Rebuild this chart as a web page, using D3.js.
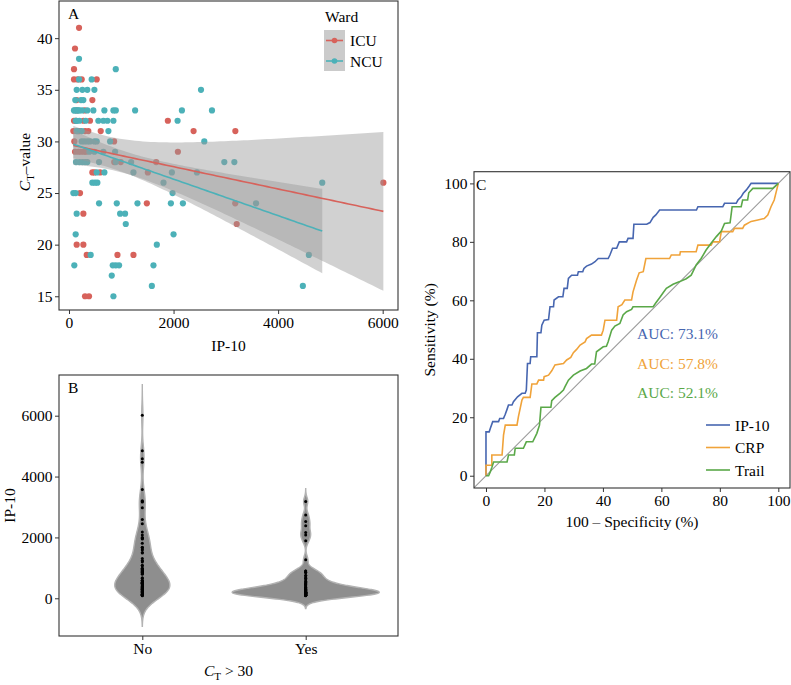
<!DOCTYPE html>
<html><head><meta charset="utf-8">
<script src="https://cdn.jsdelivr.net/npm/d3@7"></script>
<style>body{margin:0;background:#fff} svg text{font-family:"Liberation Serif","Times New Roman",serif}</style>
</head><body><svg id="c" width="791" height="685" font-family="Liberation Serif, serif"></svg>
<script>
// ---------------- DATA ----------------
// Panel A: [IP-10, CT value]  (includes estimated overplotted points in the dense low-IP-10 cluster)
const icuPoints = [[192,41],[115,39],[96,37],[96,36],[166,36],[243,36],[530,36],[147,34],[447,34],[300,33],[150,33],
 [96,32],[130,32],[275,32],[402,32],[1891,32],[83,31],[180,31],[198,31],[307,31],[370,31],[607,31],[2383,31],[3182,31],
 [102,30],[863,30],[115,29],[179,29],[230,29],[288,29],[326,29],[2083,29],[865,28],[990,28],[1668,28],
 [447,27],[486,27],[594,27],[1508,27],[6013,26],[211,25],[1489,24],[3180,24],[275,23],[3208,22],
 [147,20],[275,20],[339,19],[927,19],[1233,19],[307,15],[383,15]];
const ncuPoints = [[192,38],[895,37],[192,36],[434,36],[147,35],[256,35],[351,35],[486,35],[2525,35],
 [120,34],[230,34],[275,34],[96,33],[110,33],[147,33],[175,33],[198,33],[250,33],[350,33],[466,33],[677,33],[850,33],[895,33],[1265,33],[2160,33],[2735,33],
 [130,32],[147,32],[198,32],[320,32],[562,32],[658,32],[735,32],[850,32],[2077,32],[147,31],[160,31],[243,31],[754,31],
 [243,30],[294,30],[351,30],[402,30],[486,30],[530,30],[786,30],[2588,30],[390,29],[486,29],[658,29],[882,29],
 [134,28],[198,28],[256,28],[307,28],[351,28],[575,28],[895,28],[1189,28],[2971,28],[3163,28],
 [530,27],[677,27],[1233,27],[1968,27],[2447,27],[447,26],[498,26],[543,26],[1808,26],[4844,26],
 [83,25],[128,25],[1981,25],[575,24],[914,24],[1310,24],[1949,24],[2179,24],[3578,24],[147,23],[978,23],[1073,23],
 [1086,22],[128,21],[2000,21],[1680,20],[415,19],[4588,19],[102,18],[837,18],[895,18],[958,18],[1616,18],
 [818,17],[1585,16],[4473,16],[850,15]];
const wards = ["ICU","NCU"];
const wardColors = ["#d7625b","#4cb1b8"];
const xTicksA = [0,2000,4000,6000];
const yTicksA = [15,20,25,30,35,40];

// Panel B
const groupsB = ["No","Yes"];
const yTicksB = [0,2000,4000,6000];

// Panel C: [100 - specificity, sensitivity]
const rocIP10 = [[0,0],[0,15],[1.1,15],[1.5,16.2],[2.3,18.5],[4.3,18.5],[4.7,19.6],[6,19.6],[6.6,21],[7.2,22.7],[7.7,24.2],[8.9,24.2],[9.4,25.3],[10.8,27],[12.3,28.2],[13.4,28.2],[13.8,29.3],[14.2,38.4],[15.1,38.4],[15.3,40.7],[17.4,40.7],[17.6,48.9],[18.8,48.9],[19.1,51.5],[19.9,53.2],[21.4,53.4],[21.9,57.8],[23.1,57.8],[23.3,60.1],[24.8,61.2],[26.3,61.2],[26.7,64.1],[27.8,64.1],[28.2,67.5],[29.3,68.6],[31.3,68.6],[31.6,69.8],[33.1,69.8],[33.5,70.9],[34.4,71.7],[36.1,72.4],[37.3,73.2],[38.4,74.3],[41.8,74.3],[42.4,75.5],[43.3,77.8],[44.7,77.8],[45.6,80],[48.1,80],[48.6,81.2],[50.3,81.2],[50.6,86],[55,86],[56.1,86.6],[57.2,88.4],[58.1,89.2],[59.4,90.9],[72,90.9],[72.5,92],[81,92],[81.6,93.2],[85.6,93.2],[86.2,94.3],[87.3,95.4],[88,96.6],[89,97.7],[90,99],[90.7,100],[100,100]];
const rocCRP = [[0,0],[0,3.6],[2,3.6],[2,7.1],[5.5,7.1],[6,13.9],[6.6,17.3],[10.6,17.3],[11.1,20.2],[12.3,25.9],[12.8,26.8],[15.1,26.8],[15.7,31.4],[17.4,31.4],[18,32.7],[19.7,32.7],[19.9,33.9],[21.4,34.4],[22.5,35.9],[23.6,37.9],[26.5,38.4],[27.6,39.6],[29,40.5],[29.9,42.1],[31,43.2],[32.2,44.7],[33.9,45.8],[34.4,46.9],[36.1,48.1],[39.5,48.1],[40.1,49.8],[40.7,53.2],[44.7,53.2],[45.2,57.8],[46.5,58.5],[47.5,60.1],[49.8,60.1],[50.3,62.9],[51.5,66.9],[52.4,69.4],[53.8,69.8],[54.7,74.3],[62.8,74.3],[63.4,75.5],[66.3,75.5],[66.5,76.6],[71.9,76.6],[72.5,78.9],[77,78.9],[77.6,80],[79.9,80],[80.5,83.5],[84.4,83.5],[85,84.6],[87.8,84.6],[88.4,85.7],[90.7,87],[93,87.5],[95.2,88],[96.4,89.2],[97.5,92],[98.6,94.3],[100,100]];
const rocTrail = [[0,0],[0.9,0],[1.5,1.4],[2,2.8],[2.6,4.7],[7.2,4.7],[7.7,7.1],[9.7,7.1],[10,9.4],[12.8,9.4],[13.8,11.6],[16,11.6],[17.4,14.5],[18.3,17.3],[18.8,23.4],[22.2,23.4],[22.5,25.7],[23.6,26.8],[25.3,28.2],[26.5,29.3],[27,30.4],[28.2,32.7],[29.9,34.4],[32.2,35.8],[34.4,36.7],[36.1,38.2],[37.2,38.2],[37.8,42.4],[40.1,44.1],[41.2,44.3],[41.8,45.8],[43,49.8],[44.1,51.2],[45.8,52.1],[46.9,55],[48.1,56.1],[49.8,56.9],[50.3,57.8],[57.2,57.8],[58,59],[59.4,60.9],[60.6,62.6],[61.7,64.1],[64,65.5],[66.3,66.4],[68.5,67.4],[70.2,68.6],[70.8,69.8],[71.9,72.1],[73.6,74.3],[75.3,77.2],[77,79.5],[78.8,81.8],[80.5,83.7],[81.6,86.3],[83.5,86.5],[84.2,92],[87.3,92],[87.8,94.3],[89.5,94.3],[89.9,96.8],[91.3,98.3],[98.1,98.3],[100,100]];
const rocNames = ["IP-10","CRP","Trail"];
const rocColors = ["#4766b0","#f0a33a","#5aa848"];
const aucLabels = ["AUC: 73.1%","AUC: 57.8%","AUC: 52.1%"];
const ticksC = [0,20,40,60,80,100];

// ---------------- DRAW ----------------
const SERIF = "Liberation Serif, Times New Roman, serif";
const svg = d3.select("#c");
const FS = 15.5;
const defs = svg.append("defs");
function clip(id, p){ defs.append("clipPath").attr("id",id).append("rect").attr("x",p.l).attr("y",p.t).attr("width",p.r-p.l).attr("height",p.b-p.t); }
function styleAxis(g){ g.attr("font-family",SERIF).attr("font-size",FS); g.select(".domain").remove();
  g.selectAll("text").attr("font-size",FS).attr("fill","#000").attr("font-family",SERIF); g.selectAll("line").attr("stroke","#333"); }
function frame(p){ svg.append("rect").attr("x",p.l).attr("y",p.t).attr("width",p.r-p.l).attr("height",p.b-p.t).attr("fill","none").attr("stroke","#333").attr("stroke-width",1.1); }
function ctText(sel, after){ sel.append("tspan").attr("font-style","italic").text("C");
  sel.append("tspan").attr("font-size",11).attr("dy",4).text("T");
  sel.append("tspan").attr("dy",-4).text(after); }
const fmt = d3.format("d");

// ===== Panel A =====
const A={l:59,r:398,t:1,b:310};
clip("clA",A);
const xA=d3.scaleLinear().domain([-191,6293]).range([A.l,A.r]);
const yA=d3.scaleLinear().domain([13.67,43.6]).range([A.b,A.t]);
const gA=svg.append("g").attr("clip-path","url(#clA)");
const groupsA=[icuPoints,ncuPoints];
groupsA.forEach((pts,i)=>{
  gA.selectAll(null).data(pts).enter().append("circle")
    .attr("cx",d=>xA(d[0])).attr("cy",d=>yA(d[1])).attr("r",3.1).attr("fill",wardColors[i]);
});
function tq(df){ const z=1.959964; return z+(z**3+z)/(4*df)+(5*z**5+16*z**3+3*z)/(96*df*df); }
function lmFit(pts){
  const n=pts.length, xb=d3.mean(pts,d=>d[0]), yb=d3.mean(pts,d=>d[1]);
  const sxx=d3.sum(pts,d=>(d[0]-xb)**2), sxy=d3.sum(pts,d=>(d[0]-xb)*(d[1]-yb));
  const b=sxy/sxx, a=yb-b*xb;
  const s=Math.sqrt(d3.sum(pts,d=>(d[1]-a-b*d[0])**2)/(n-2));
  const t=tq(n-2);
  const [x0,x1]=d3.extent(pts,d=>d[0]);
  return d3.range(81).map(k=>{ const x=x0+(x1-x0)*k/80; const f=a+b*x;
    const se=s*Math.sqrt(1/n+(x-xb)**2/sxx); return {x,f,lo:f-t*se,hi:f+t*se}; });
}
const fits=groupsA.map(lmFit);
fits.forEach(f=>{
  gA.append("path").datum(f).attr("fill","#999").attr("fill-opacity",0.45)
    .attr("d",d3.area().x(d=>xA(d.x)).y0(d=>yA(d.lo)).y1(d=>yA(d.hi)));
});
fits.forEach((f,i)=>{
  gA.append("path").datum(f).attr("fill","none").attr("stroke",wardColors[i]).attr("stroke-width",1.6)
    .attr("d",d3.line().x(d=>xA(d.x)).y(d=>yA(d.f)));
});
frame(A);
svg.append("g").attr("transform",`translate(0,${A.b})`).call(d3.axisBottom(xA).tickValues(xTicksA).tickFormat(fmt).tickSize(4).tickPadding(2.5)).call(styleAxis);
svg.append("g").attr("transform",`translate(${A.l},0)`).call(d3.axisLeft(yA).tickValues(yTicksA).tickFormat(fmt).tickSize(4).tickPadding(2.5)).call(styleAxis);
svg.append("text").attr("x",(A.l+A.r)/2).attr("y",351).attr("text-anchor","middle").attr("font-size",FS).text("IP-10");
ctText(svg.append("text").attr("transform","translate(30,162) rotate(-90)").attr("text-anchor","middle").attr("font-size",FS),"\u2013value");
svg.append("text").attr("x",68).attr("y",18.5).attr("font-size",FS).text("A");
// legend
svg.append("text").attr("x",325).attr("y",22).attr("font-size",FS).text("Ward");
svg.append("rect").attr("x",324).attr("y",30).attr("width",21).attr("height",41).attr("fill","#cbcbcb");
wards.forEach((w,i)=>{ const y=40.5+i*20.5;
  svg.append("line").attr("x1",326).attr("x2",343).attr("y1",y).attr("y2",y).attr("stroke",wardColors[i]).attr("stroke-width",1.6);
  svg.append("circle").attr("cx",334.5).attr("cy",y).attr("r",2.8).attr("fill",wardColors[i]);
  svg.append("text").attr("x",350).attr("y",y+5.5).attr("font-size",FS).text(w);
});

// ===== Panel B =====
const B={l:59,r:398,t:375,b:636};
clip("clB",B);
const xB=d3.scaleLinear().domain([1,2]).range([142.3,305.7]);
const yB=d3.scaleLinear().domain([-1239,7337]).range([B.b,B.t]);
const allPts=icuPoints.concat(ncuPoints);
const valsB=[allPts.filter(d=>d[1]<=30).map(d=>d[0]).sort(d3.ascending), allPts.filter(d=>d[1]>30).map(d=>d[0]).sort(d3.ascending)];
function bwNrd0(v){ const sd=d3.deviation(v), iqr=(d3.quantile(v,0.75)-d3.quantile(v,0.25))/1.34; return 0.9*Math.min(sd,iqr)*Math.pow(v.length,-0.2); }
const dens=valsB.map(v=>{ const bw=bwNrd0(v); const lo=d3.min(v)-3*bw, hi=d3.max(v)+3*bw;
  return d3.range(512).map(k=>{ const y=lo+(hi-lo)*k/511;
    const dd=d3.sum(v,x=>Math.exp(-0.5*((y-x)/bw)**2))/(v.length*bw*Math.sqrt(2*Math.PI)); return {y,d:dd}; }); });
const maxD=d3.max(dens,g=>d3.max(g,p=>p.d));
const gB=svg.append("g").attr("clip-path","url(#clB)");
dens.forEach((g,i)=>{
  const c=i+1;
  gB.append("path").datum(g).attr("fill","#8e8e8e").attr("stroke","#b3b3b3").attr("stroke-width",1.4)
    .attr("d",d3.area().curve(d3.curveLinear).y(p=>yB(p.y))
      .x0(p=>xB(c-0.45*p.d/maxD)).x1(p=>xB(c+0.45*p.d/maxD)));
});
valsB.forEach((v,i)=>{
  gB.selectAll(null).data(v).enter().append("circle").attr("cx",xB(i+1)).attr("cy",d=>yB(d)).attr("r",1.5).attr("fill","#000");
});
frame(B);
svg.append("g").attr("transform",`translate(0,${B.b})`).call(d3.axisBottom(xB).tickValues([1,2]).tickFormat(d=>groupsB[d-1]).tickSize(4).tickPadding(2.5)).call(styleAxis);
svg.append("g").attr("transform",`translate(${B.l},0)`).call(d3.axisLeft(yB).tickValues(yTicksB).tickFormat(fmt).tickSize(4).tickPadding(2.5)).call(styleAxis);
svg.append("text").attr("transform","translate(14.5,505.5) rotate(-90)").attr("text-anchor","middle").attr("font-size",FS).text("IP-10");
ctText(svg.append("text").attr("x",(B.l+B.r)/2).attr("y",676).attr("text-anchor","middle").attr("font-size",FS)," > 30");
svg.append("text").attr("x",68).attr("y",393).attr("font-size",FS).text("B");

// ===== Panel C =====
const C={l:474,r:790,t:171.7,b:488};
clip("clC",C);
const xC=d3.scaleLinear().domain([-4.1,104]).range([C.l,C.r]);
const yC=d3.scaleLinear().domain([-4.2,104]).range([C.b,C.t]);
const gC=svg.append("g").attr("clip-path","url(#clC)");
gC.append("line").attr("x1",xC(-10)).attr("y1",yC(-10)).attr("x2",xC(110)).attr("y2",yC(110)).attr("stroke","#9a9a9a").attr("stroke-width",1.1);
[rocIP10,rocCRP,rocTrail].forEach((r,i)=>{
  gC.append("path").datum(r).attr("fill","none").attr("stroke",rocColors[i]).attr("stroke-width",1.6)
    .attr("d",d3.line().x(d=>xC(d[0])).y(d=>yC(d[1])));
});
frame(C);
svg.append("g").attr("transform",`translate(0,${C.b})`).call(d3.axisBottom(xC).tickValues(ticksC).tickFormat(fmt).tickSize(4).tickPadding(2.5)).call(styleAxis);
svg.append("g").attr("transform",`translate(${C.l},0)`).call(d3.axisLeft(yC).tickValues(ticksC).tickFormat(fmt).tickSize(4).tickPadding(2.5)).call(styleAxis);
svg.append("text").attr("x",(C.l+C.r)/2).attr("y",527).attr("text-anchor","middle").attr("font-size",FS).text("100 \u2013 Specificity (%)");
svg.append("text").attr("transform",`translate(435,${(C.t+C.b)/2}) rotate(-90)`).attr("text-anchor","middle").attr("font-size",FS).text("Sensitivity (%)");
svg.append("text").attr("x",476).attr("y",190).attr("font-size",FS).text("C");
aucLabels.forEach((t,i)=>{
  svg.append("text").attr("x",637).attr("y",339+i*29.7).attr("font-size",FS).attr("fill",rocColors[i]).text(t);
});
rocNames.forEach((n,i)=>{ const y=425+i*22.5;
  svg.append("line").attr("x1",706).attr("x2",730).attr("y1",y).attr("y2",y).attr("stroke",rocColors[i]).attr("stroke-width",1.6);
  svg.append("text").attr("x",735).attr("y",y+5.5).attr("font-size",FS).text(n);
});
</script></body></html>
